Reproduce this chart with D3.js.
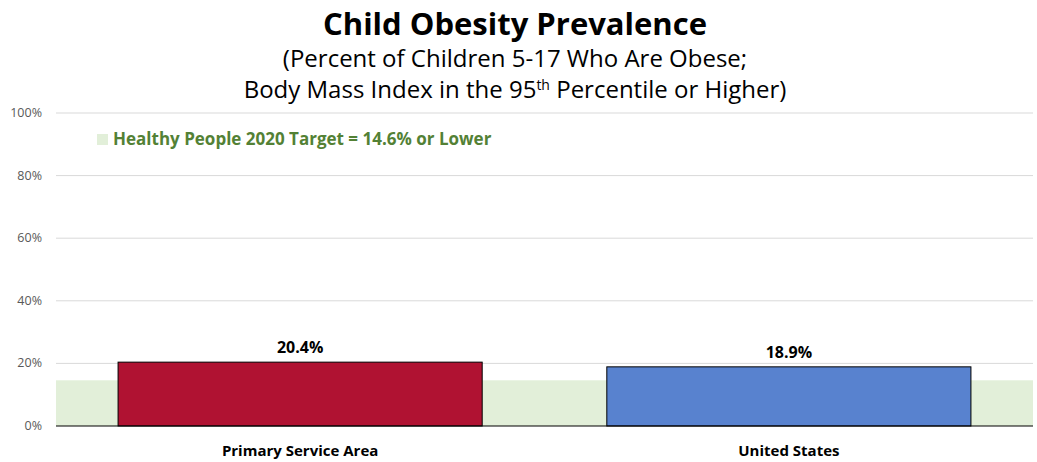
<!DOCTYPE html>
<html><head><meta charset="utf-8">
<script src="https://cdn.jsdelivr.net/npm/d3@7"></script>
<style>body{margin:0;background:#fff}svg{display:block;font-family:"Open Sans",sans-serif}</style>
</head><body>
<svg id="c" width="1037" height="462"></svg>
<script>
const categories = ["Primary Service Area", "United States"];
const values = [20.4, 18.9];
const barColors = ["#b01232", "#5882cf"];
const yTicks = [0, 20, 40, 60, 80, 100];
const targetValue = 14.6;
const targetLabel = "Healthy People 2020 Target = 14.6% or Lower";

const svg = d3.select("#c");
const m = {left: 56, right: 1033, top: 113, bottom: 426};
const x = d3.scaleBand().domain(categories).range([m.left, m.right]).paddingInner(0.255).paddingOuter(0.127);
const y = d3.scaleLinear().domain([0, 100]).range([m.bottom, m.top]);

// gridlines
svg.append("g").selectAll("line").data(yTicks.filter(d => d > 0)).join("line")
  .attr("x1", m.left).attr("x2", m.right)
  .attr("y1", d => y(d)).attr("y2", d => y(d))
  .attr("stroke", "#d9d9d9").attr("stroke-width", 1);

// target band
svg.append("rect").attr("x", m.left).attr("width", m.right - m.left)
  .attr("y", y(targetValue)).attr("height", y(0) - y(targetValue))
  .attr("fill", "#e2efd9");

// y tick labels
svg.append("g").selectAll("text").data(yTicks).join("text")
  .attr("x", 42).attr("y", d => y(d) + 4).attr("text-anchor", "end")
  .attr("font-size", 12.5).attr("fill", "#595959").text(d => d + "%");

// bars
svg.append("g").selectAll("rect").data(values).join("rect")
  .attr("x", (d, i) => x(categories[i])).attr("width", x.bandwidth())
  .attr("y", d => y(d)).attr("height", d => y(0) - y(d))
  .attr("fill", (d, i) => barColors[i]).attr("stroke", "#000").attr("stroke-width", 1);

// axis line
svg.append("line").attr("x1", m.left).attr("x2", m.right).attr("y1", y(0)).attr("y2", y(0))
  .attr("stroke", "#000").attr("stroke-width", 1.2);

// value labels
svg.append("g").selectAll("text").data(values).join("text")
  .attr("x", (d, i) => x(categories[i]) + x.bandwidth() / 2).attr("y", d => y(d) - 9)
  .attr("text-anchor", "middle").attr("font-size", 16).attr("font-weight", "bold").attr("fill", "#000")
  .text(d => d.toFixed(1) + "%");

// category labels
svg.append("g").selectAll("text").data(categories).join("text")
  .attr("x", d => x(d) + x.bandwidth() / 2).attr("y", 456)
  .attr("text-anchor", "middle").attr("font-size", 15).attr("font-weight", "bold").attr("fill", "#000")
  .text(d => d);

// legend
svg.append("rect").attr("x", 97).attr("y", 134).attr("width", 11).attr("height", 11).attr("fill", "#e2efd9");
svg.append("text").attr("x", 113).attr("y", 145).attr("font-size", 17).attr("font-weight", "bold")
  .attr("fill", "#538135").text(targetLabel);

// titles
svg.append("text").attr("x", 515).attr("y", 35).attr("text-anchor", "middle")
  .attr("font-size", 31).attr("font-weight", "bold").attr("fill", "#000").text("Child Obesity Prevalence");
svg.append("text").attr("x", 515).attr("y", 67).attr("text-anchor", "middle")
  .attr("font-size", 24).attr("fill", "#000").text("(Percent of Children 5-17 Who Are Obese;");
const t3 = svg.append("text").attr("x", 515).attr("y", 98).attr("text-anchor", "middle")
  .attr("font-size", 24).attr("fill", "#000");
t3.append("tspan").text("Body Mass Index in the 95");
t3.append("tspan").attr("font-size", 14).attr("dy", -8).text("th");
t3.append("tspan").attr("dy", 8).text(" Percentile or Higher)");
</script>
</body></html>
